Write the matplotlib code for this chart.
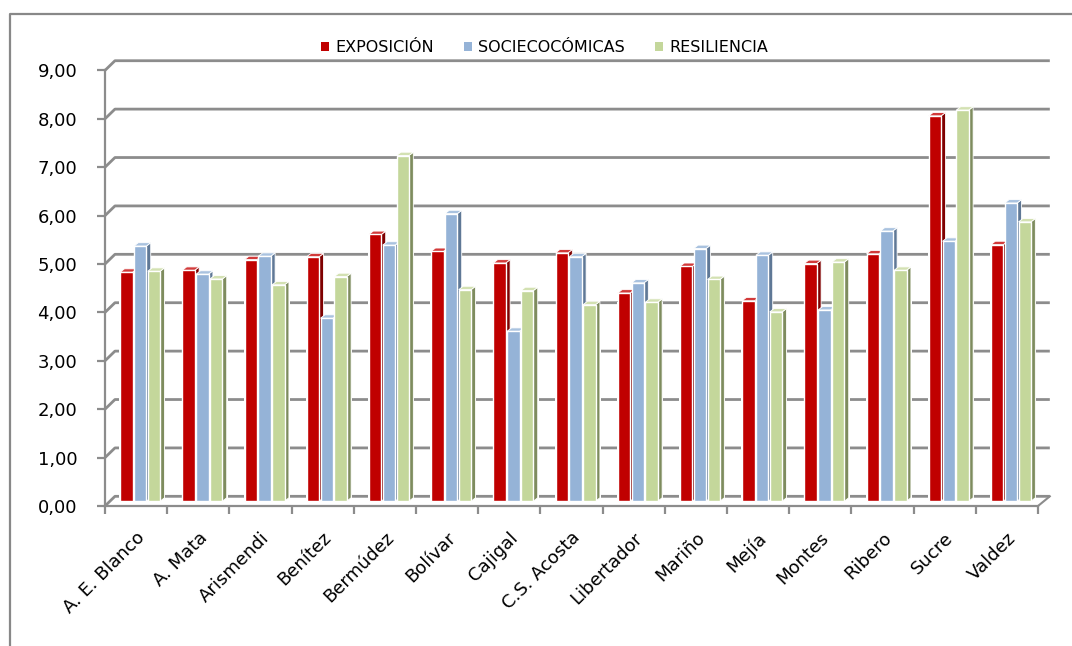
import matplotlib
matplotlib.use('Agg')
import matplotlib.pyplot as plt
import matplotlib.transforms as mtransforms
from matplotlib.patches import Polygon, Rectangle
from matplotlib.lines import Line2D
import numpy as np

municipios = ['A. E. Blanco', 'A. Mata', 'Arismendi', 'Benítez', 'Bermúdez', 'Bolívar',
              'Cajigal', 'C.S. Acosta', 'Libertador', 'Mariño', 'Mejía', 'Montes',
              'Ribero', 'Sucre', 'Valdez']
exposicion = [4.73, 4.77, 4.99, 5.05, 5.51, 5.16, 4.92, 5.13, 4.30, 4.85, 4.14, 4.91, 5.11, 7.96, 5.30]
socioeconomicas = [5.27, 4.69, 5.06, 3.78, 5.29, 5.94, 3.51, 5.05, 4.51, 5.22, 5.08, 3.95, 5.58, 5.37, 6.16]
resiliencia = [4.75, 4.59, 4.47, 4.64, 7.14, 4.37, 4.35, 4.06, 4.11, 4.58, 3.91, 4.94, 4.77, 8.08, 5.77]
series_names = ['EXPOSICIÓN', 'SOCIECOCÓMICAS', 'RESILIENCIA']
yticks = [0, 1, 2, 3, 4, 5, 6, 7, 8, 9]

front = ['#C00000', '#95B3D7', '#C4D79B']
side = ['#7F0000', '#5F7896', '#7E8C5E']
top = ['#D23A3A', '#A9C2DF', '#D3E1B2']
grid_c = '#8C8C8C'

floor = 0.1      # bars sit slightly behind the front axis
back = 0.2       # back wall offset of gridlines
dx, dy = 0.07, 0.07
w = 0.2
step = 0.222
shift = 0.065

fig = plt.figure(figsize=(10.72, 6.46), dpi=100)
ax = fig.add_axes([105 / 1072, 1 - 506 / 646, 933 / 1072, 9.3 * 48.4 / 646])
ax.set_xlim(-0.5, 14.5)
ax.set_ylim(0, 9.3)

x = np.arange(len(municipios))
data = [exposicion, socioeconomicas, resiliencia]

# back gridlines with little diagonal joints to the front axis
for k in yticks:
    ax.plot([-0.5, -0.34, 14.69], [k, k + back, k + back], color=grid_c, lw=2,
            zorder=1, clip_on=False, solid_capstyle='butt')
ax.plot([14.5, 14.69], [0, back], color=grid_c, lw=1.5, zorder=1, clip_on=False)

# white blocks behind each group
for i in x:
    lo = min(d[i] for d in data)
    ax.add_patch(Rectangle((i - 0.27, 0), 0.74, lo + floor, facecolor='white',
                           edgecolor='none', zorder=2))

z = 3
for i in x:
    for s, d in enumerate(data):
        xc = i + (s - 1) * step + shift
        xl, xr = xc - w / 2, xc + w / 2
        h = floor + d[i]
        ax.add_patch(Polygon([(xr, floor), (xr + dx, floor + dy), (xr + dx, h + dy), (xr, h)],
                             closed=True, facecolor=side[s], edgecolor='white', lw=0.6, zorder=z))
        ax.add_patch(Polygon([(xl, h), (xl + dx, h + dy), (xr + dx, h + dy), (xr, h)],
                             closed=True, facecolor=top[s], edgecolor='white', lw=0.6, zorder=z))
        ax.bar(xc, d[i], width=w, bottom=floor, color=front[s], edgecolor='white',
               linewidth=1.0, zorder=z + 0.5)
        z += 1

for sp in ['top', 'right']:
    ax.spines[sp].set_visible(False)
for sp in ['left', 'bottom']:
    ax.spines[sp].set_color(grid_c)
    ax.spines[sp].set_linewidth(1.6)
ax.spines['left'].set_bounds(0, 9)
ax.spines['bottom'].set_bounds(-0.5, 14.5)

ax.set_yticks(yticks)
ax.set_yticklabels(['%d,00' % v for v in yticks], fontsize=13)
ax.tick_params(axis='y', length=6, width=1.6, color=grid_c, pad=14)

ax.set_xticks(x)
ax.set_xticklabels(municipios, rotation=45, ha='right', va='center',
                   rotation_mode='anchor', fontsize=13)
ax.tick_params(axis='x', length=0, pad=21)
ax.set_xticks(np.arange(-0.5, 15, 1), minor=True)
ax.tick_params(axis='x', which='minor', length=6, width=1.6, color=grid_c)
off = mtransforms.ScaledTranslation(6 / 100, 0, fig.dpi_scale_trans)
for lab in ax.get_xticklabels():
    lab.set_transform(lab.get_transform() + off)

handles = [Rectangle((0, 0), 1, 1, facecolor=c, edgecolor='none') for c in front]
leg = fig.legend(handles, series_names, loc='center', bbox_to_anchor=(0.508, 0.926),
                 ncol=3, frameon=False, fontsize=11.5, handlelength=0.5, handleheight=0.5,
                 handletextpad=0.4, columnspacing=1.9)

# outer chart frame
fig.add_artist(Line2D([10 / 1072, 10 / 1072, 1.0], [0.0, 1 - 14 / 646, 1 - 14 / 646],
                      transform=fig.transFigure, color='#888888', lw=1.6))

fig.savefig('out.png', dpi=100)
